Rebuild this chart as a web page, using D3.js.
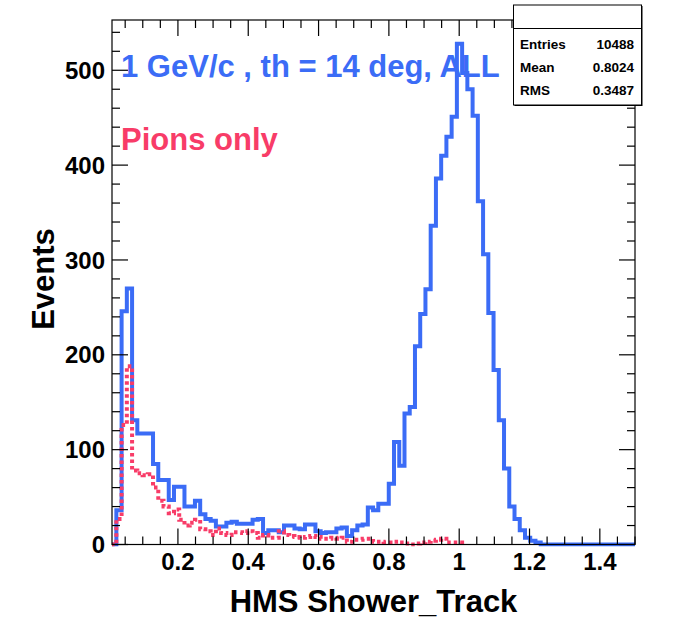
<!DOCTYPE html>
<html>
<head>
<meta charset="utf-8">
<script src="https://cdn.jsdelivr.net/npm/d3@7"></script>
<style>
  html, body { margin: 0; padding: 0; background: #fff; }
  svg { display: block; font-family: "Liberation Sans", Arial, Helvetica, sans-serif; }
</style>
</head>
<body>
<svg id="chart" width="674" height="621"></svg>
<script>
// ---- data ----
const binStart = 0.01;
const binWidth = 0.0149;
// All events (blue), 100 bins from 0.01 to 1.5
const allCounts = [
  0, 36, 246, 270, 131, 117, 117, 117, 85, 68,
  68, 47, 61, 61, 40, 40, 46, 32, 27, 25,
  19, 19, 23, 24, 22, 22, 22, 26, 27, 12,
  15, 15, 13, 20, 20, 17, 16, 21, 21, 14,
  12, 13, 13, 17, 18, 9, 15, 20, 21, 39,
  36, 43, 43, 64, 108, 83, 138, 145, 209, 243,
  269, 336, 386, 410, 430, 451, 528, 497, 480, 452,
  362, 306, 244, 184, 131, 80, 40, 27, 15, 7,
  4, 2, 0, 0, 0, 0, 0, 0, 0, 0,
  0, 0, 0, 0, 0, 0, 0, 0, 0, 0
];
// Pions only (pink), first 67 bins
const pionCounts = [
  0, 27, 126, 188, 78, 75, 73, 74, 60, 46,
  40, 33, 37, 26, 20, 23, 26, 16, 14, 10,
  17, 12, 10, 13, 13, 12, 14, 12, 7, 10,
  7, 7, 14, 10, 9, 8, 7, 8, 9, 8,
  6, 6, 7, 6, 7, 3, 5, 5, 6, 6,
  3, 3, 2, 2, 3, 2, 1, 0, 1, 2,
  3, 4, 5, 6, 2, 2, 2
];
const xTicksMajor = [0.2, 0.4, 0.6, 0.8, 1.0, 1.2, 1.4];
const xTickLabels = ["0.2", "0.4", "0.6", "0.8", "1", "1.2", "1.4"];
const yTicksMajor = [0, 100, 200, 300, 400, 500];
const statNames = ["Entries", "Mean", "RMS"];
const statValues = ["10488", "0.8024", "0.3487"];
const titleText = "1 GeV/c , th = 14 deg, ALL";
const subText = "Pions only";
const xTitle = "HMS Shower_Track";
const yTitle = "Events";

// ---- layout ----
const W = 674, H = 621;
const fr = { left: 112, right: 635, top: 20, bottom: 544.5 };
const blue = "#3b6cf6";
const pink = "#f83c68";

const svg = d3.select("#chart");
svg.append("rect").attr("width", W).attr("height", H).attr("fill", "#fff");

const x = d3.scaleLinear().domain([0.0125, 1.5]).range([fr.left, fr.right]);
const y = d3.scaleLinear().domain([0, 553]).range([fr.bottom, fr.top]);

svg.append("defs").append("clipPath").attr("id", "frameClip")
  .append("rect").attr("x", fr.left).attr("y", fr.top - 10)
  .attr("width", fr.right - fr.left).attr("height", fr.bottom - fr.top + 12);

function histPoints(counts) {
  const pts = [[binStart, 0]];
  counts.forEach((c, i) => {
    const lo = binStart + i * binWidth, hi = lo + binWidth;
    pts.push([lo, c]); pts.push([hi, c]);
  });
  pts.push([binStart + counts.length * binWidth, 0]);
  return pts;
}
const line = d3.line().x(d => x(d[0])).y(d => y(d[1]));

const plot = svg.append("g").attr("clip-path", "url(#frameClip)");
plot.append("path").attr("d", line(histPoints(allCounts)))
  .attr("fill", "none").attr("stroke", blue).attr("stroke-width", 4)
  .attr("stroke-linejoin", "miter");
plot.append("path").attr("d", line(histPoints(pionCounts)))
  .attr("fill", "none").attr("stroke", pink).attr("stroke-width", 4)
  .attr("stroke-dasharray", "3.5,3");

// ---- frame & ticks ----
svg.append("rect").attr("x", fr.left).attr("y", fr.top)
  .attr("width", fr.right - fr.left).attr("height", fr.bottom - fr.top)
  .attr("fill", "none").attr("stroke", "#000").attr("stroke-width", 1.2);

const majLen = 16, minLen = 8;
const xMinor = d3.range(0.05, 1.5001, 0.05).filter(v => v >= 0.0125);
const gt = svg.append("g").attr("stroke", "#000").attr("stroke-width", 1.2);
xMinor.forEach(v => {
  const isMaj = Math.abs(Math.round(v / 0.2) * 0.2 - v) < 1e-6;
  const L = isMaj ? majLen : minLen;
  gt.append("line").attr("x1", x(v)).attr("x2", x(v)).attr("y1", fr.bottom).attr("y2", fr.bottom - L);
  gt.append("line").attr("x1", x(v)).attr("x2", x(v)).attr("y1", fr.top).attr("y2", fr.top + L);
});
d3.range(0, 553, 20).forEach(v => {
  const L = v % 100 === 0 ? majLen : minLen;
  gt.append("line").attr("x1", fr.left).attr("x2", fr.left + L).attr("y1", y(v)).attr("y2", y(v));
  gt.append("line").attr("x1", fr.right).attr("x2", fr.right - L).attr("y1", y(v)).attr("y2", y(v));
});

// tick labels
const tickFont = 24;
xTicksMajor.forEach((v, i) => {
  svg.append("text").attr("x", x(v)).attr("y", 570)
    .attr("text-anchor", "middle").attr("font-size", tickFont).attr("font-weight", "bold")
    .text(xTickLabels[i]);
});
yTicksMajor.forEach(v => {
  svg.append("text").attr("x", 105).attr("y", y(v)).attr("dy", "0.36em")
    .attr("text-anchor", "end").attr("font-size", tickFont).attr("font-weight", "bold")
    .text(String(v));
});

// axis titles
svg.append("text").attr("x", (fr.left + fr.right) / 2).attr("y", 612)
  .attr("text-anchor", "middle").attr("font-size", 31).attr("font-weight", "bold")
  .text(xTitle);
svg.append("text").attr("transform", "translate(54,279) rotate(-90)")
  .attr("text-anchor", "middle").attr("font-size", 31).attr("font-weight", "bold")
  .text(yTitle);

// in-plot labels
svg.append("text").attr("x", 121).attr("y", 77)
  .attr("font-size", 31).attr("font-weight", "bold").attr("fill", blue)
  .text(titleText);
svg.append("text").attr("x", 121).attr("y", 150)
  .attr("font-size", 31).attr("font-weight", "bold").attr("fill", pink)
  .text(subText);

// stats box
const sb = { x: 513.5, y: 5, w: 128, h: 100, sep: 28.5 };
svg.append("rect").attr("x", sb.x + 1).attr("y", sb.y + 1).attr("width", sb.w).attr("height", sb.h).attr("fill", "#000");
svg.append("rect").attr("x", sb.x).attr("y", sb.y).attr("width", sb.w).attr("height", sb.h)
  .attr("fill", "#fff").attr("stroke", "#000").attr("stroke-width", 1);
svg.append("line").attr("x1", sb.x).attr("x2", sb.x + sb.w).attr("y1", sb.sep).attr("y2", sb.sep)
  .attr("stroke", "#000").attr("stroke-width", 1);
const rowY = [48.5, 71.5, 95];
statNames.forEach((n, i) => {
  svg.append("text").attr("x", 520).attr("y", rowY[i]).attr("font-size", 13.5).attr("font-weight", "bold").text(n);
  svg.append("text").attr("x", 634).attr("y", rowY[i]).attr("text-anchor", "end")
    .attr("font-size", 13.5).attr("font-weight", "bold").text(statValues[i]);
});
</script>
</body>
</html>
